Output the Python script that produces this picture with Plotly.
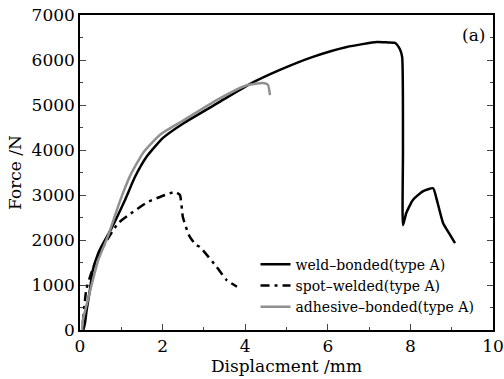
import plotly.graph_objects as go

weld_x = [0.08, 0.12, 0.16, 0.24, 0.31, 0.44, 0.5, 0.74, 1.09, 1.33, 1.62, 2.01, 2.5, 3.31, 4.12, 4.84, 5.64, 6.46, 7.19, 7.45, 7.63, 7.74, 7.8, 7.82, 7.82, 7.9, 8.06, 8.3, 8.55, 8.64, 8.79, 8.95, 9.08]
weld_y = [0, 150, 440, 890, 1330, 1700, 1820, 2220, 2890, 3400, 3860, 4270, 4590, 5030, 5470, 5780, 6070, 6290, 6400, 6390, 6380, 6250, 6070, 4000, 2330, 2600, 2890, 3080, 3150, 2890, 2380, 2130, 1930]

spot_x = [0.07, 0.15, 0.27, 0.39, 0.61, 0.92, 1.23, 1.65, 2.06, 2.3, 2.42, 2.49, 2.59, 2.66, 2.81, 2.9, 3.31, 3.55, 3.8]
spot_y = [150, 890, 1260, 1550, 1930, 2370, 2590, 2850, 3000, 3070, 3000, 2510, 2220, 2070, 1890, 1850, 1400, 1110, 960]

adh_x = [0.05, 0.07, 0.19, 0.31, 0.44, 0.67, 0.97, 1.21, 1.53, 1.94, 2.47, 3.31, 4.04, 4.43, 4.55, 4.6]
adh_y = [0, 220, 670, 1110, 1550, 2070, 2870, 3420, 3940, 4340, 4640, 5110, 5440, 5490, 5450, 5220]

x_ticks = [0, 2, 4, 6, 8, 10]
y_ticks = [0, 1000, 2000, 3000, 4000, 5000, 6000, 7000]

FONT = "DejaVu Serif"

fig = go.Figure()
fig.add_trace(go.Scatter(x=weld_x, y=weld_y, mode="lines", name="weld\u2013bonded(type A)",
                         line=dict(color="black", width=2.5, shape="spline", smoothing=0.5)))
fig.add_trace(go.Scatter(x=spot_x, y=spot_y, mode="lines", name="spot\u2013welded(type A)",
                         line=dict(color="black", width=2.5, dash="9px,5px,3px,5px", shape="spline", smoothing=0.4)))
fig.add_trace(go.Scatter(x=adh_x, y=adh_y, mode="lines", name="adhesive\u2013bonded(type A)",
                         line=dict(color="#909090", width=2.5, shape="spline", smoothing=0.5)))

fig.add_annotation(x=0.985, y=0.975, xref="paper", yref="paper", text="(a)", showarrow=False,
                   xanchor="right", yanchor="top", font=dict(family=FONT, size=17, color="black"))

fig.update_layout(
    width=504, height=379,
    margin=dict(l=80, r=11, t=15, b=49, autoexpand=False),
    paper_bgcolor="white", plot_bgcolor="white",
    font=dict(family=FONT, color="black"),
    showlegend=True,
    legend=dict(x=0.425, y=0.258, xanchor="left", yanchor="top", bgcolor="rgba(0,0,0,0)",
                font=dict(family=FONT, size=14, color="black"), tracegroupgap=0),
    xaxis=dict(range=[0, 10], tickvals=x_ticks, ticks="inside", ticklen=6, tickwidth=1,
               showline=True, linecolor="black", linewidth=1.5, mirror=True, showgrid=False,
               zeroline=False, automargin=False, tickfont=dict(size=17, family=FONT),
               minor=dict(tickvals=[1, 3, 5, 7, 9], ticks="inside", ticklen=3),
               title=dict(text="Displacment /mm", font=dict(size=17, family=FONT), standoff=2)),
    yaxis=dict(range=[0, 7000], tickvals=y_ticks, ticks="inside", ticklen=6, tickwidth=1,
               showline=True, linecolor="black", linewidth=1.5, mirror="ticks", showgrid=False,
               zeroline=False, automargin=False, tickfont=dict(size=17, family=FONT),
               minor=dict(tickvals=[500, 1500, 2500, 3500, 4500, 5500, 6500], ticks="inside", ticklen=3),
               title=dict(text="Force /N", font=dict(size=17, family=FONT), standoff=6)),
)

fig.write_html("out.html", config={"displayModeBar": False},
               post_script="document.body.style.margin='0';document.body.style.overflow='hidden';")
